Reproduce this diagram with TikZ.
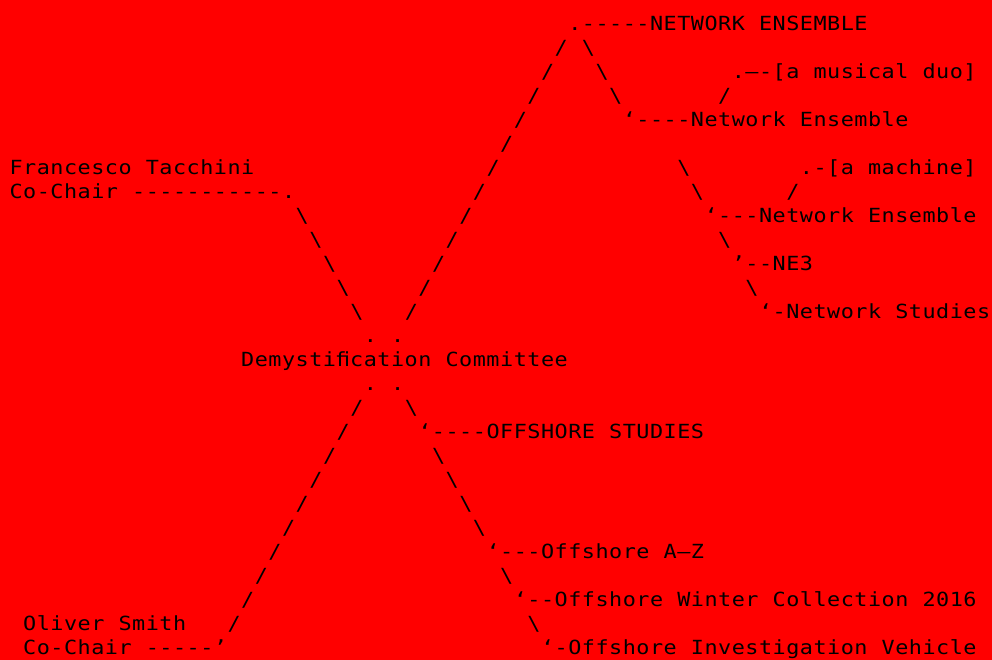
\documentclass[tikz,border=0pt]{standalone}
\usepackage{fontspec}
\newfontfamily\monof[FakeStretch=1.12]{DejaVu Sans Mono}
\makeatletter
\newcommand\cellw{10.22pt}
\def\mono#1{\mono@go#1\mono@end}
\def\mono@end{\mono@end@}
\def\mono@go{\futurelet\mono@tok\mono@chk}
\def\mono@chk{\ifx\mono@tok\mono@end\let\mono@next\mono@stop\else\ifx\mono@tok\@sptoken\let\mono@next\mono@sp\else\let\mono@next\mono@ch\fi\fi\mono@next}
\def\mono@stop\mono@end{}
\def\mono@ch#1{\makebox[\cellw][c]{#1}\mono@go}
\@firstofone{\def\mono@sp} {\hspace*{\cellw}\mono@go}
\makeatother
\definecolor{bgred}{RGB}{255,0,0}
\tikzset{txt/.style={anchor=base west, inner sep=0pt, outer sep=0pt, text=black,
  font=\monof\fontsize{14.6pt}{18pt}\selectfont}}
% name, row, column, text
\newcommand\T[4]{\node[txt] (#1) at ({7.0pt+#3*10.22pt},{-22.875pt-#2*18pt}) {\mono{#4}};}
\newcommand\bs{\textbackslash}
\begin{document}
\begin{tikzpicture}
\fill[bgred] (0,0) rectangle (744pt,-495pt);
\useasboundingbox (0,0) rectangle (744pt,-495pt);
% row 0
\T{ne}{0}{41}{.-----NETWORK ENSEMBLE}
% row 1
\T{a1}{1}{40}{/}
\T{b1}{1}{42}{\bs}
% row 2
\T{a2}{2}{39}{/}
\T{b2}{2}{43}{\bs}
\T{duo}{2}{53}{.—-[a musical duo]}
% row 3
\T{a3}{3}{38}{/}
\T{b3}{3}{44}{\bs}
\T{c3}{3}{52}{/}
% row 4
\T{a4}{4}{37}{/}
\T{ne1}{4}{45}{‘----Network Ensemble}
% row 5
\T{a5}{5}{36}{/}
% row 6
\T{ft}{6}{0}{Francesco Tacchini}
\T{a6}{6}{35}{/}
\T{b6}{6}{49}{\bs}
\T{mach}{6}{58}{.-[a machine]}
% row 7
\T{cc1}{7}{0}{Co-Chair -----------.}
\T{a7}{7}{34}{/}
\T{b7}{7}{50}{\bs}
\T{c7}{7}{57}{/}
% row 8
\T{l8}{8}{21}{\bs}
\T{a8}{8}{33}{/}
\T{ne2}{8}{51}{‘---Network Ensemble}
% row 9
\T{l9}{9}{22}{\bs}
\T{a9}{9}{32}{/}
\T{b9}{9}{52}{\bs}
% row 10
\T{l10}{10}{23}{\bs}
\T{a10}{10}{31}{/}
\T{ne3}{10}{53}{’--NE3}
% row 11
\T{l11}{11}{24}{\bs}
\T{a11}{11}{30}{/}
\T{b11}{11}{54}{\bs}
% row 12
\T{l12}{12}{25}{\bs}
\T{a12}{12}{29}{/}
\T{ns}{12}{55}{‘-Network Studies}
% row 13
\T{d13a}{13}{26}{.}
\T{d13b}{13}{28}{.}
% row 14
\T{dc}{14}{17}{Demystiﬁcation Committee}
% row 15
\T{d15a}{15}{26}{.}
\T{d15b}{15}{28}{.}
% row 16
\T{l16}{16}{25}{/}
\T{r16}{16}{29}{\bs}
% row 17
\T{l17}{17}{24}{/}
\T{os}{17}{30}{‘----OFFSHORE STUDIES}
% rows 18-21
\T{l18}{18}{23}{/}
\T{r18}{18}{31}{\bs}
\T{l19}{19}{22}{/}
\T{r19}{19}{32}{\bs}
\T{l20}{20}{21}{/}
\T{r20}{20}{33}{\bs}
\T{l21}{21}{20}{/}
\T{r21}{21}{34}{\bs}
% row 22
\T{l22}{22}{19}{/}
\T{oaz}{22}{35}{‘---Offshore A–Z}
% row 23
\T{l23}{23}{18}{/}
\T{r23}{23}{36}{\bs}
% row 24
\T{l24}{24}{17}{/}
\T{owc}{24}{37}{‘--Offshore Winter Collection 2016}
% row 25
\T{os1}{25}{1}{Oliver Smith}
\T{l25}{25}{16}{/}
\T{r25}{25}{38}{\bs}
% row 26
\T{cc2}{26}{1}{Co-Chair -----’}
\T{oiv}{26}{39}{‘-Offshore Investigation Vehicle}
\end{tikzpicture}
\end{document}
